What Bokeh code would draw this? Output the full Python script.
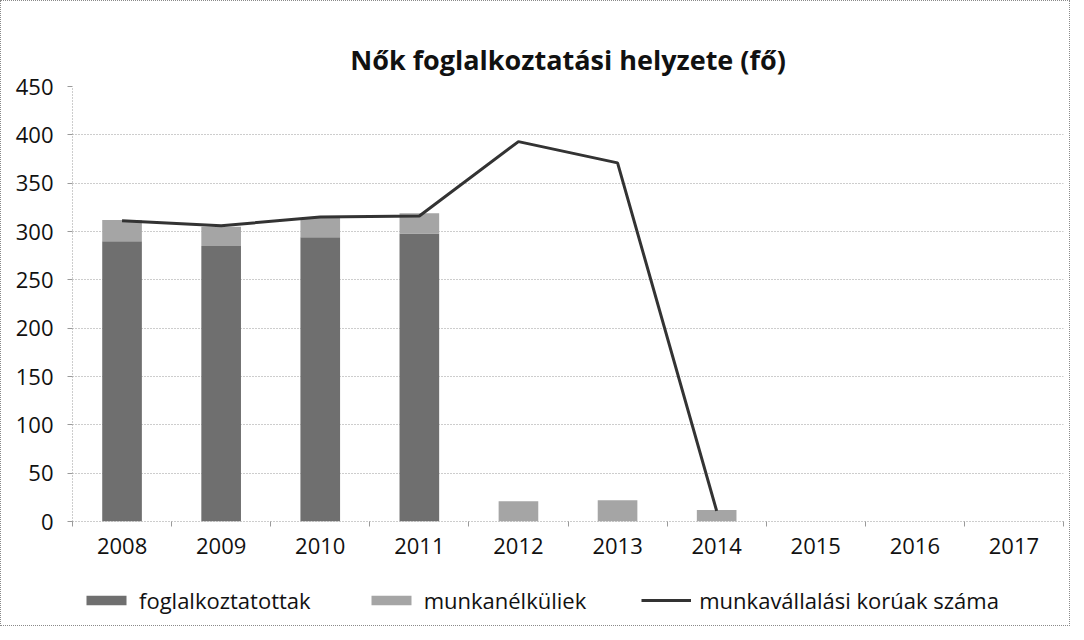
from bokeh.plotting import figure
from bokeh.models import FixedTicker, Legend, LegendItem, Range1d
from bokeh.layouts import column
from bokeh.embed import file_html
from bokeh.resources import INLINE

years = ["2008", "2009", "2010", "2011", "2012", "2013", "2014", "2015", "2016", "2017"]
foglalkoztatottak = [290, 285, 294, 298, 0, 0, 0, 0, 0, 0]
munkanelkuliek = [22, 20, 20, 21, 21, 22, 12, 0, 0, 0]
munkavallalasi = [311, 306, 315, 316, 393, 371, 11, float("nan"), float("nan"), float("nan")]
y_ticks = [0, 50, 100, 150, 200, 250, 300, 350, 400, 450]
series_names = ["foglalkoztatottak", "munkanélküliek", "munkavállalási korúak száma"]

FONT = "Open Sans"
C_FOG = "#6f6f6f"
C_MUN = "#a5a5a5"
C_LINE = "#333333"

xs = list(range(len(years)))
tops_m = [a + b for a, b in zip(foglalkoztatottak, munkanelkuliek)]

p = figure(width=1068, height=574, output_backend="svg", toolbar_location=None,
           x_range=Range1d(-0.5, len(years) - 0.5), y_range=Range1d(0, 450),
           min_border_left=71, min_border_right=6, min_border_top=85, min_border_bottom=54)

p.title.text = "Nők foglalkoztatási helyzete (fő)"
p.title.align = "center"
p.title.text_font = FONT
p.title.text_font_style = "bold"
p.title.text_font_size = "27px"
p.title.text_color = "#111111"
p.title.standoff = 18

p.vbar(x=xs, top=foglalkoztatottak, bottom=0, width=0.4, fill_color=C_FOG, line_color=None)
p.vbar(x=xs, top=tops_m, bottom=foglalkoztatottak, width=0.4, fill_color=C_MUN, line_color=None)
p.line(x=xs, y=munkavallalasi, line_color=C_LINE, line_width=3)

p.outline_line_color = None
p.background_fill_color = "white"
p.border_fill_color = "white"

# grid
p.xgrid.grid_line_color = None
p.ygrid.ticker = FixedTicker(ticks=y_ticks)
p.ygrid.grid_line_color = "#9a9a9a"
p.ygrid.grid_line_dash = "1 2"
p.ygrid.grid_line_width = 1

# y axis
p.yaxis.ticker = FixedTicker(ticks=y_ticks)
p.yaxis.axis_line_color = "#9a9a9a"
p.yaxis.axis_line_dash = "1 2"
p.yaxis.major_tick_line_color = "#9a9a9a"
p.yaxis.major_tick_out = 5
p.yaxis.major_tick_in = 0
p.yaxis.minor_tick_line_color = None
p.yaxis.major_label_text_font = FONT
p.yaxis.major_label_text_font_size = "22px"
p.yaxis.major_label_text_color = "#111111"
p.yaxis.major_label_standoff = 14

# x axis
p.xaxis.ticker = FixedTicker(ticks=xs, minor_ticks=[i + 0.5 for i in range(-1, len(years))])
p.xaxis.major_label_overrides = {i: y for i, y in zip(xs, years)}
p.xaxis.axis_line_color = "#9a9a9a"
p.xaxis.axis_line_dash = "1 2"
p.xaxis.major_tick_line_color = None
p.xaxis.minor_tick_line_color = "#9a9a9a"
p.xaxis.minor_tick_out = 5
p.xaxis.minor_tick_in = 0
p.xaxis.major_label_text_font = FONT
p.xaxis.major_label_text_font_size = "22px"
p.xaxis.major_label_text_color = "#111111"
p.xaxis.major_label_standoff = 10

# legend strip below the chart (its glyph renderers sit outside the visible range)
lg = figure(width=1068, height=50, output_backend="svg", toolbar_location=None,
            x_range=Range1d(0, 1), y_range=Range1d(0, 1),
            min_border=0, min_border_left=0, min_border_right=0,
            min_border_top=0, min_border_bottom=0)
lg.axis.visible = False
lg.grid.visible = False
lg.outline_line_color = None
lg.background_fill_color = "white"
lg.border_fill_color = "white"
g1 = lg.vbar(x=[-10], top=[-10], bottom=[-11], width=0.1, fill_color=C_FOG, line_color=None)
g2 = lg.vbar(x=[-10], top=[-10], bottom=[-11], width=0.1, fill_color=C_MUN, line_color=None)
g3 = lg.line(x=[-10, -9], y=[-10, -10], line_color=C_LINE, line_width=3)

legend = Legend(items=[
    LegendItem(label=series_names[0], renderers=[g1]),
    LegendItem(label=series_names[1], renderers=[g2]),
    LegendItem(label=series_names[2], renderers=[g3]),
], orientation="horizontal", location="left")
legend.label_text_font = FONT
legend.label_text_font_size = "22px"
legend.label_text_color = "#111111"
legend.glyph_width = 50
legend.glyph_height = 12
legend.label_standoff = 8
legend.spacing = 55
legend.border_line_color = None
legend.background_fill_alpha = 0
legend.padding = 0
legend.margin = 9
lg.add_layout(legend)

layout = column(p, lg, spacing=0)
layout.styles = {"border": "1px dotted #8a8a8a"}

open("out.html", "w").write(file_html(layout, INLINE))
